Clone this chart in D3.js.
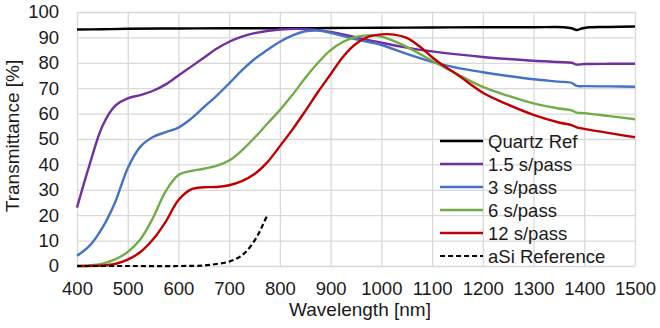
<!DOCTYPE html>
<html>
<head>
<meta charset="utf-8">
<script src="https://cdn.jsdelivr.net/npm/d3@7"></script>
<style>
  html, body { margin: 0; padding: 0; background: #fff; }
  svg { display: block; font-family: "Liberation Sans", Arial, sans-serif; }
</style>
</head>
<body>
<svg id="chart" width="660" height="328"></svg>
<script>
// Wavelength samples (nm) and transmittance (%) for each film
const quartzWl = [400, 450, 500, 600, 700, 800, 900, 1000, 1100, 1200, 1300, 1360, 1375, 1385, 1395, 1410, 1450, 1500];
const quartzT  = [93.1, 93.2, 93.4, 93.5, 93.6, 93.6, 93.7, 93.8, 93.9, 94.0, 94.0, 94.0, 93.6, 92.9, 93.5, 94.0, 94.1, 94.3];

const p15Wl = [400, 425, 450, 475, 500, 525, 550, 575, 600, 625, 650, 675, 700, 725, 750, 800, 850, 900, 950, 1000, 1050, 1100, 1150, 1200, 1250, 1300, 1350, 1375, 1385, 1400, 1450, 1500];
const p15T  = [23, 40, 55, 63, 66, 67.3, 69, 71.5, 75, 78.5, 82, 85.5, 88.3, 90.3, 91.7, 93.1, 93.3, 92.2, 90, 87.9, 86, 84.5, 83.3, 82.3, 81.5, 80.8, 80.3, 80, 79.3, 79.5, 79.6, 79.6];

const p3Wl = [400, 425, 450, 475, 500, 525, 550, 575, 600, 625, 650, 675, 700, 725, 750, 775, 800, 825, 850, 875, 900, 950, 1000, 1050, 1100, 1150, 1200, 1250, 1300, 1350, 1375, 1385, 1400, 1450, 1500];
const p3T  = [4, 8, 15, 25, 38.5, 47, 50.8, 52.7, 54.5, 58, 62.5, 67, 71.9, 77, 81.5, 85, 88.3, 90.8, 92.4, 92.7, 91.8, 89.2, 87, 83.5, 80.4, 78, 76.3, 74.8, 73.5, 72.6, 72.1, 70.9, 70.8, 70.7, 70.6];

const p6Wl = [400, 425, 450, 475, 500, 525, 550, 575, 600, 625, 650, 675, 700, 725, 750, 775, 800, 825, 850, 875, 900, 925, 950, 975, 1000, 1025, 1050, 1075, 1100, 1150, 1200, 1250, 1300, 1350, 1375, 1385, 1400, 1450, 1500];
const p6T  = [0, 0.2, 0.9, 2.6, 5.5, 10.5, 19, 29.5, 35.8, 37.4, 38.3, 39.4, 41.5, 45.5, 50.5, 56, 61.4, 67.5, 74, 80, 85, 88.3, 90.2, 90.8, 90.3, 88.5, 86.3, 83.6, 80.8, 75.5, 70.5, 67, 64, 62, 61.3, 60.4, 60.2, 59, 57.8];

const p12Wl = [400, 450, 475, 500, 525, 550, 575, 600, 625, 650, 675, 700, 725, 750, 775, 800, 825, 850, 875, 900, 925, 950, 975, 1000, 1025, 1050, 1075, 1100, 1125, 1150, 1200, 1250, 1300, 1350, 1375, 1385, 1400, 1450, 1500];
const p12T  = [0, 0.2, 0.8, 2.5, 5.5, 10.5, 17.5, 26, 30.2, 31, 31.1, 31.8, 33.4, 36.2, 40.8, 47.2, 53.8, 61, 68.5, 75.5, 82.5, 87.5, 90.3, 91.2, 91.1, 89.8, 86.5, 82.2, 78.5, 75.3, 68.2, 63.5, 59.5, 56.5, 55.5, 54.6, 54, 52.3, 50.7];

const aSiWl = [400, 500, 600, 650, 675, 700, 720, 735, 750, 760, 767, 775];
const aSiT  = [0, 0, 0, 0.2, 0.8, 1.7, 3.5, 6, 10, 13.5, 16.5, 20];

const xTicks = [400, 500, 600, 700, 800, 900, 1000, 1100, 1200, 1300, 1400, 1500];
const yTicks = [0, 10, 20, 30, 40, 50, 60, 70, 80, 90, 100];

const seriesNames  = ["Quartz Ref", "1.5 s/pass", "3 s/pass", "6 s/pass", "12 s/pass", "aSi Reference"];
const seriesColors = ["#000000", "#7030A0", "#4472C4", "#70AD47", "#C00000", "#000000"];

const series = [
  { wl: quartzWl, t: quartzT },
  { wl: p15Wl, t: p15T },
  { wl: p3Wl, t: p3T },
  { wl: p6Wl, t: p6T },
  { wl: p12Wl, t: p12T },
  { wl: aSiWl, t: aSiT, dashed: true }
].map((s, i) => ({ ...s, name: seriesNames[i], color: seriesColors[i] }));

const svg = d3.select("#chart");
const margin = { left: 77, right: 25, top: 12, bottom: 62 };
const W = 660, H = 328;
const x = d3.scaleLinear().domain([400, 1500]).range([margin.left, W - margin.right]);
const y = d3.scaleLinear().domain([0, 100]).range([H - margin.bottom, margin.top]);

const gridColor = "#d9d9d9";
const textColor = "#1a1a1a";

// grid lines
svg.append("g")
  .attr("transform", `translate(0,${y(0)})`)
  .call(d3.axisBottom(x).tickValues(xTicks).tickSize(-(y(0) - y(100))).tickFormat(""))
  .call(g => g.select(".domain").remove())
  .call(g => g.selectAll("line").attr("stroke", gridColor).attr("stroke-width", 1.3));
svg.append("g")
  .attr("transform", `translate(${x(400)},0)`)
  .call(d3.axisLeft(y).tickValues(yTicks).tickSize(-(x(1500) - x(400))).tickFormat(""))
  .call(g => g.select(".domain").remove())
  .call(g => g.selectAll("line").attr("stroke", gridColor).attr("stroke-width", 1.3));

// tick labels
svg.append("g")
  .attr("transform", `translate(0,${y(0)})`)
  .call(d3.axisBottom(x).tickValues(xTicks).tickSize(0).tickPadding(16).tickFormat(d3.format("d")))
  .call(g => g.select(".domain").remove())
  .call(g => g.selectAll("text").attr("font-size", 18.5).attr("fill", textColor)
    .attr("font-family", "'Liberation Sans', Arial, sans-serif"));
svg.append("g")
  .attr("transform", `translate(${x(400)},0)`)
  .call(d3.axisLeft(y).tickValues(yTicks).tickSize(0).tickPadding(18).tickFormat(d3.format("d")))
  .call(g => g.select(".domain").remove())
  .call(g => g.selectAll("text").attr("font-size", 18.5).attr("fill", textColor)
    .attr("font-family", "'Liberation Sans', Arial, sans-serif"));

// axis titles
svg.append("text")
  .attr("x", (x(400) + x(1500)) / 2 + 4)
  .attr("y", 316)
  .attr("text-anchor", "middle")
  .attr("font-size", 19)
  .attr("fill", textColor)
  .text("Wavelength [nm]");
svg.append("text")
  .attr("transform", `translate(19,${(y(0) + y(100)) / 2 - 3}) rotate(-90)`)
  .attr("text-anchor", "middle")
  .attr("font-size", 19)
  .attr("fill", textColor)
  .text("Transmittance [%]");

// data lines
const line = d3.line()
  .x(d => x(d[0]))
  .y(d => y(d[1]))
  .curve(d3.curveCatmullRom.alpha(0.5));

svg.append("g").selectAll("path")
  .data(series)
  .join("path")
  .attr("d", s => line(s.wl.map((w, i) => [w, s.t[i]])))
  .attr("fill", "none")
  .attr("stroke", s => s.color)
  .attr("stroke-width", s => s.dashed ? 2.2 : 2.4)
  .attr("stroke-dasharray", s => s.dashed ? "5,3" : null)
  .attr("stroke-linejoin", "round");

// legend
const legend = svg.append("g").attr("transform", "translate(440,141)");
const rows = legend.selectAll("g")
  .data(series)
  .join("g")
  .attr("transform", (d, i) => `translate(0,${i * 23})`);
rows.append("line")
  .attr("x1", 0).attr("x2", 43)
  .attr("y1", 0).attr("y2", 0)
  .attr("stroke", d => d.color)
  .attr("stroke-width", d => d.dashed ? 2 : 2.4)
  .attr("stroke-dasharray", d => d.dashed ? "5,3" : null);
rows.append("text")
  .attr("x", 48)
  .attr("y", 6.5)
  .attr("font-size", 18.5)
  .attr("fill", textColor)
  .text(d => d.name);
</script>
</body>
</html>
